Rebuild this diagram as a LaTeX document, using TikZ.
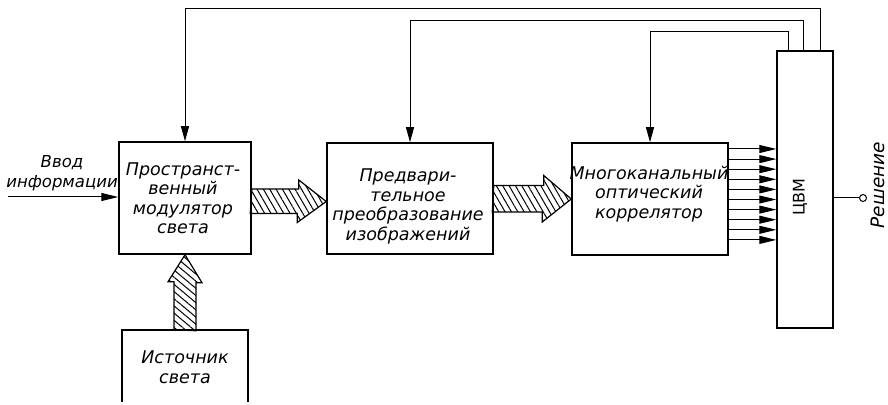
\documentclass[tikz,border=0pt]{standalone}
\usepackage{fontspec}
\setmainfont{DejaVu Sans}
\usetikzlibrary{arrows.meta,patterns.meta,calc}
\begin{document}
\begin{tikzpicture}[x=1pt,y=1pt,
  box/.style={draw,line width=1.5pt,inner sep=0pt},
  lbl/.style={align=center,inner sep=0pt,font=\fontsize{17.5}{19.5}\selectfont\itshape},
  sig/.style={line width=1pt,-{Triangle[length=17pt,width=8pt]}},
  fb/.style={line width=1pt,-{Triangle[length=15pt,width=8pt]}},
  hatchar/.style={draw,line width=1.2pt,line join=miter,
     pattern={Lines[angle=-60,distance=5.5pt,line width=1pt]}},
  hatchv/.style={draw,line width=1.2pt,line join=miter,
     pattern={Lines[angle=-40,distance=5.5pt,line width=1pt]}}]
\useasboundingbox (0,0) rectangle (888,404);

% boxes
\node[box,minimum width=132pt,minimum height=112pt] (b1) at (185,206) {};
\node[box,minimum width=166pt,minimum height=111pt] (b2) at (410,205.5) {};
\node[box,minimum width=156pt,minimum height=112pt] (b3) at (650,205) {};
\node[box,minimum width=56pt,minimum height=277pt] (cvm) at (805,214.5) {};
\node[inner sep=0pt,minimum width=126pt,minimum height=72pt] (src) at (185,38) {};
\draw[line width=1.5pt] (src.south west) -- (src.north west) -- (src.north east) -- (src.south east);

% texts
\node[lbl] (t1) at (183,206) {Пространст-\\венный\\модулятор\\света};
\node[lbl] (t2) at ([xshift=-2pt,yshift=-8pt]b2.center) {Предвари-\\тельное\\преобразование\\изображений};
\node[lbl] (t3) at ([xshift=-1pt,yshift=5pt]b3.center) {Многоканальный\\оптический\\коррелятор};
\node[lbl] (t4) at ([yshift=-1pt]src.center) {Источник\\света};
\node[lbl,font=\fontsize{16}{18}\selectfont\upshape,rotate=90] (t5) at (800,207) {ЦВМ};
\node[lbl,font=\fontsize{18.5}{20}\selectfont\itshape,rotate=90] (res) at (878,219) {Решение};
\node[lbl,font=\fontsize{16.5}{20}\selectfont\itshape] (inlab) at (62,231) {Ввод\\информации};

% hatched arrows
\draw[hatchar] ([yshift=-3pt]b1.east) ++(0,12) -- ++(47,0) -- ++(0,9)
   -- ([yshift=-3pt]b2.west) -- ++(-29,-21) -- ++(0,9) -- ++(-47,0) -- cycle;
\draw[hatchar] (b2.east) ++(0,13) -- ++(50,0) -- ++(0,10)
   -- (b3.west) -- ++(-29,-23) -- ++(0,10) -- ++(-50,0) -- cycle;
\draw[hatchv] (src.north) ++(-11,0) -- ++(0,48) -- ++(-6,0)
   -- (b1.south) -- ++(17,-28) -- ++(-6,0) -- ++(0,-48) -- cycle;

% input
\coordinate (inp) at (8,207);
\draw[sig] (inp) -- (inp -| b1.west);

% correlator to computer
\foreach \k in {0,...,9}{
  \path ([yshift={50-10.1*\k}]b3.east) coordinate (s\k);
  \draw[sig] (s\k) -- (s\k -| cvm.west);
}

% feedback
\draw[fb] ([xshift=15pt]cvm.north) -- ++(0,42) -| (b1.north);
\draw[fb] ([xshift=-2pt]cvm.north) -- ++(0,30) -| (b2.north);
\draw[fb] ([xshift=-17pt]cvm.north) -- ++(0,19) -| (b3.north);

% output
\node[circle,draw,line width=1pt,inner sep=0pt,minimum size=7pt] (out) at (863,206) {};
\draw[line width=1pt] (cvm.east |- out) -- (out);
\end{tikzpicture}
\end{document}
